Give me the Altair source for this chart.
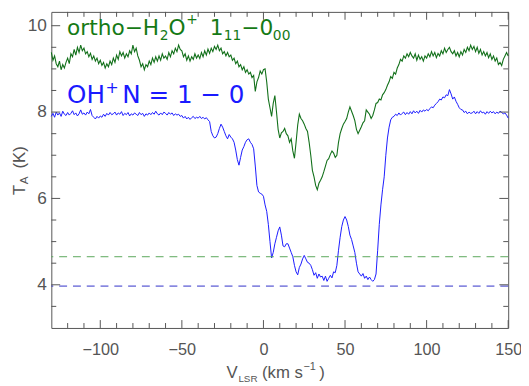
import altair as alt
import pandas as pd

velocity = list(range(-130, 151))  # km/s channel grid

oh_plus = [
    7.90, 7.97, 7.88, 8.00, 7.93, 7.98, 7.90, 8.02, 7.95, 7.92,
    7.99, 7.93, 7.97, 8.03, 7.94, 7.98, 7.91, 7.96, 8.05, 7.95,
    7.98, 7.93, 8.00, 7.96, 8.06, 7.92, 7.88, 7.84, 7.90, 7.86,
    7.91, 7.88, 7.95, 7.90, 7.97, 7.93, 7.99, 7.94, 7.96, 8.00,
    7.93, 7.98, 7.95, 8.01, 7.92, 7.97, 7.94, 7.99, 7.91, 7.96,
    7.93, 7.98, 7.95, 7.92, 7.99, 7.94, 7.97, 7.90, 7.96, 7.93,
    7.98, 7.94, 7.99, 7.95, 8.02, 7.96, 7.93, 7.98, 7.94, 8.00,
    7.97, 7.93, 7.99, 7.95, 7.98, 7.92, 7.96, 7.93, 7.95, 7.90,
    7.92, 7.86, 7.90, 7.84, 7.88, 7.83, 7.87, 7.90, 7.85, 7.88,
    7.86, 7.90, 7.85, 7.88, 7.84, 7.87, 7.82, 7.78, 7.55, 7.45,
    7.40, 7.42, 7.50, 7.62, 7.72, 7.65, 7.55, 7.45, 7.38, 7.48,
    7.42, 7.38, 7.30, 7.12, 6.90, 6.77, 6.95, 7.12, 7.20, 7.30,
    7.36, 7.38, 7.30, 7.25, 7.15, 6.75, 6.30, 6.15, 6.12, 6.10,
    6.05, 5.85, 5.70, 5.40, 5.00, 4.62, 4.75, 4.95, 5.10, 5.25,
    5.34, 5.15, 4.90, 4.88, 4.95, 4.95, 4.85, 4.75, 4.65, 4.45,
    4.30, 4.23, 4.40, 4.48, 4.60, 4.68, 4.60, 4.52, 4.50, 4.45,
    4.35, 4.22, 4.28, 4.15, 4.25, 4.18, 4.20, 4.10, 4.20, 4.08,
    4.15, 4.22, 4.16, 4.30, 4.28, 4.45, 4.80, 5.10, 5.35, 5.50,
    5.58, 5.50, 5.35, 5.15, 5.05, 4.90, 4.75, 4.50, 4.30, 4.25,
    4.20, 4.26, 4.15, 4.20, 4.12, 4.18, 4.12, 4.08, 4.12, 4.25,
    4.80, 5.40, 5.85, 6.20, 6.50, 7.00, 7.40, 7.65, 7.82, 7.88,
    7.90, 7.95, 7.92, 7.98, 7.93, 7.97, 8.00, 7.94, 7.99, 7.95,
    8.01, 7.96, 8.03, 7.98, 8.02, 7.97, 8.04, 8.00, 8.05, 8.02,
    8.06, 8.03, 8.08, 8.12, 8.10, 8.16, 8.20, 8.24, 8.30, 8.28,
    8.35, 8.33, 8.40, 8.38, 8.52, 8.42, 8.30, 8.35, 8.25, 8.18,
    8.10, 8.06, 8.05, 7.99, 8.02, 7.96, 8.00, 7.97, 7.98, 8.02,
    7.96, 8.01, 7.97, 8.03, 7.98, 8.00, 7.95, 8.01, 7.97, 8.02,
    7.98, 8.01, 7.96, 8.00, 7.97, 8.02, 7.99, 7.96, 7.98, 7.93,
    7.86,
]

h2o_plus = [
    9.38, 9.20, 9.30, 9.12, 9.05, 9.18, 8.98, 9.10, 9.02, 9.15,
    9.25, 9.12, 9.35, 9.28, 9.45, 9.32, 9.50, 9.38, 9.55, 9.42,
    9.48, 9.35, 9.40, 9.28, 9.36, 9.22, 9.30, 9.18, 9.25, 9.12,
    9.20, 9.08, 9.15, 9.02, 9.12, 9.05, 9.18, 9.10, 9.25, 9.15,
    9.32, 9.22, 9.40, 9.30, 9.38, 9.25, 9.35, 9.28, 9.42, 9.35,
    9.55, 9.40, 9.48, 9.30, 9.20, 9.05, 9.12, 8.98, 9.10, 9.05,
    9.18, 9.10, 9.25, 9.15, 9.28, 9.18, 9.30, 9.20, 9.35, 9.25,
    9.30, 9.22, 9.38, 9.28, 9.42, 9.35, 9.48, 9.40, 9.55, 9.45,
    9.42, 9.28, 9.35, 9.20, 9.30, 9.18, 9.28, 9.22, 9.35, 9.25,
    9.32, 9.24, 9.38, 9.28, 9.42, 9.32, 9.46, 9.36, 9.48, 9.40,
    9.52, 9.45, 9.55, 9.42, 9.48, 9.35, 9.40, 9.30, 9.38, 9.28,
    9.32, 9.20, 9.25, 9.12, 9.18, 9.05, 9.10, 8.98, 9.05, 8.92,
    8.98, 8.88, 8.92, 8.80, 8.85, 8.48, 8.70, 8.80, 8.95, 8.88,
    8.98, 9.00, 8.70, 8.30, 8.10, 7.90, 8.20, 8.38, 8.00, 7.60,
    7.40, 7.52, 7.55, 7.62, 7.50, 7.45, 7.30, 7.38, 7.10, 6.93,
    7.30, 7.70, 7.95, 7.85, 7.80, 7.72, 7.62, 7.55, 7.30, 7.00,
    6.65, 6.50, 6.30, 6.20, 6.35, 6.42, 6.50, 6.62, 6.75, 6.88,
    6.92, 7.02, 7.10, 7.05, 6.95, 7.00, 7.30, 7.50, 7.62, 7.72,
    7.78, 7.85, 8.00, 8.12, 8.02, 7.92, 7.80, 7.60, 7.50, 7.58,
    7.66, 7.75, 7.80, 8.05, 8.00, 7.95, 7.85, 7.92, 8.05, 8.20,
    8.22, 8.30, 8.28, 8.40, 8.45, 8.52, 8.62, 8.70, 8.82, 8.78,
    8.92, 8.88, 9.02, 9.10, 9.22, 9.18, 9.30, 9.25, 9.35, 9.28,
    9.38, 9.30, 9.25, 9.35, 9.20, 9.32, 9.22, 9.28, 9.18, 9.30,
    9.25, 9.35, 9.28, 9.40, 9.30, 9.38, 9.26, 9.36, 9.30, 9.42,
    9.35, 9.48, 9.38, 9.45, 9.50, 9.40, 9.35, 9.42, 9.30, 9.38,
    9.28, 9.40, 9.32, 9.45, 9.38, 9.50, 9.42, 9.55, 9.45, 9.52,
    9.40, 9.50, 9.36, 9.45, 9.32, 9.40, 9.30, 9.38, 9.26, 9.35,
    9.22, 9.30, 9.18, 9.25, 9.10, 9.15, 9.08, 9.22, 9.30, 9.38,
    9.30,
]

h2o_level = [4.65]
oh_level = [3.97]

x_major = [-100, -50, 0, 50, 100, 150]
x_minor = [-120, -110, -90, -80, -70, -60, -40, -30, -20, -10,
           10, 20, 30, 40, 60, 70, 80, 90, 110, 120, 130, 140]
y_major = [4, 6, 8, 10]
y_minor = [3.5, 4.5, 5.0, 5.5, 6.5, 7.0, 7.5, 8.5, 9.0, 9.5]

W, H = 464, 321
GRAY = "#555555"
FONT = "Liberation Sans"
GREEN_TXT = "#157a15"
BLUE_TXT = "#1a1aff"

xs = alt.Scale(domain=[-130, 150], nice=False, zero=False)
ys = alt.Scale(domain=[3.0, 10.32], nice=False, zero=False)

x_axis = alt.Axis(values=x_major, ticks=False, domain=False, grid=False,
                  labelFont=FONT, labelFontSize=16.5, labelColor=GRAY,
                  labelPadding=14, labelFlush=False, title=None)
y_axis = alt.Axis(values=y_major, ticks=False, domain=False, grid=False,
                  labelFont=FONT, labelFontSize=17.5, labelColor=GRAY,
                  labelPadding=5, title=None)


def X():
    return alt.X("v:Q", scale=xs, axis=x_axis)


def Y():
    return alt.Y("T:Q", scale=ys, axis=y_axis)


oh_df = pd.DataFrame({"v": velocity, "T": oh_plus})
h2o_df = pd.DataFrame({"v": velocity, "T": h2o_plus})

oh_line = alt.Chart(oh_df).mark_line(color="#1a1aff", strokeWidth=1).encode(x=X(), y=Y())
h2o_line = alt.Chart(h2o_df).mark_line(color="#12701a", strokeWidth=1.1).encode(x=X(), y=Y())

h2o_dash = alt.Chart(pd.DataFrame({"T": h2o_level})).mark_rule(
    color="#5aa85a", strokeWidth=1, strokeDash=[8, 6]).encode(y=Y())
oh_dash = alt.Chart(pd.DataFrame({"T": oh_level})).mark_rule(
    color="#3030c8", strokeWidth=1, strokeDash=[8, 6]).encode(y=Y())


def xticks(vals, length):
    d = pd.DataFrame({"v": vals})
    bottom = alt.Chart(d).mark_rule(color=GRAY, strokeWidth=1).encode(
        x=X(), y=alt.value(H), y2=alt.value(H - length))
    top = alt.Chart(d).mark_rule(color=GRAY, strokeWidth=1).encode(
        x=X(), y=alt.value(0), y2=alt.value(length))
    return [bottom, top]


def yticks(vals, length):
    d = pd.DataFrame({"T": vals})
    left = alt.Chart(d).mark_rule(color=GRAY, strokeWidth=1).encode(
        y=Y(), x=alt.value(0), x2=alt.value(length))
    right = alt.Chart(d).mark_rule(color=GRAY, strokeWidth=1).encode(
        y=Y(), x=alt.value(W), x2=alt.value(W - length))
    return [left, right]


def label(text, x, y, size, color, angle=0, font="DejaVu Sans"):
    d = pd.DataFrame({"t": [text]})
    kw = dict(align="left", baseline="alphabetic", fontSize=size, color=color, font=font)
    if angle:
        kw["angle"] = angle
    return alt.Chart(d).mark_text(**kw).encode(
        text="t:N", x=alt.value(x), y=alt.value(y))


texts = [
    # ortho-H2O+ 1_11 - 0_00
    label("ortho\u2212H", 16, 23, 22, GREEN_TXT),
    label("2", 110, 29, 14, GREEN_TXT),
    label("O", 119, 23, 22, GREEN_TXT),
    label("+", 137, 12, 14, GREEN_TXT),
    label("1", 161, 23, 22, GREEN_TXT),
    label("11", 175, 29, 14, GREEN_TXT),
    label("\u22120", 193, 23, 22, GREEN_TXT),
    label("00", 225, 29, 14, GREEN_TXT),
    # OH+ N = 1 - 0
    label("OH", 16, 93, 25, BLUE_TXT),
    label("+", 55, 82, 16, BLUE_TXT),
    label("N = 1 \u2212 0", 72, 93, 25, BLUE_TXT),
    # x title: V_LSR (km s^-1)
    label("V", 178, 372, 17, GRAY, font=FONT),
    label("LSR", 190, 376, 10, GRAY, font=FONT),
    label("(km s", 214, 372, 17, GRAY, font=FONT),
    label("\u22121", 256, 364, 11, GRAY, font=FONT),
    label(")", 272, 372, 17, GRAY, font=FONT),
    # y title: T_A (K)
    label("T", -27, 186, 17, GRAY, angle=270, font=FONT),
    label("A", -24, 175, 12, GRAY, angle=270, font=FONT),
    label("(K)", -27, 159, 17, GRAY, angle=270, font=FONT),
]

layers = [oh_line, h2o_line, h2o_dash, oh_dash]
layers += xticks(x_major, 8) + xticks(x_minor, 5)
layers += yticks(y_major, 9) + yticks(y_minor, 5)
layers += texts

chart = alt.layer(*layers).properties(
    width=W, height=H,
    autosize=alt.AutoSizeParams(type="none"),
    padding={"left": 44, "top": 1, "right": 13, "bottom": 57},
).configure_view(stroke=GRAY, strokeWidth=1)

chart.save("out.html", embed_options={"renderer": "svg", "actions": False})
